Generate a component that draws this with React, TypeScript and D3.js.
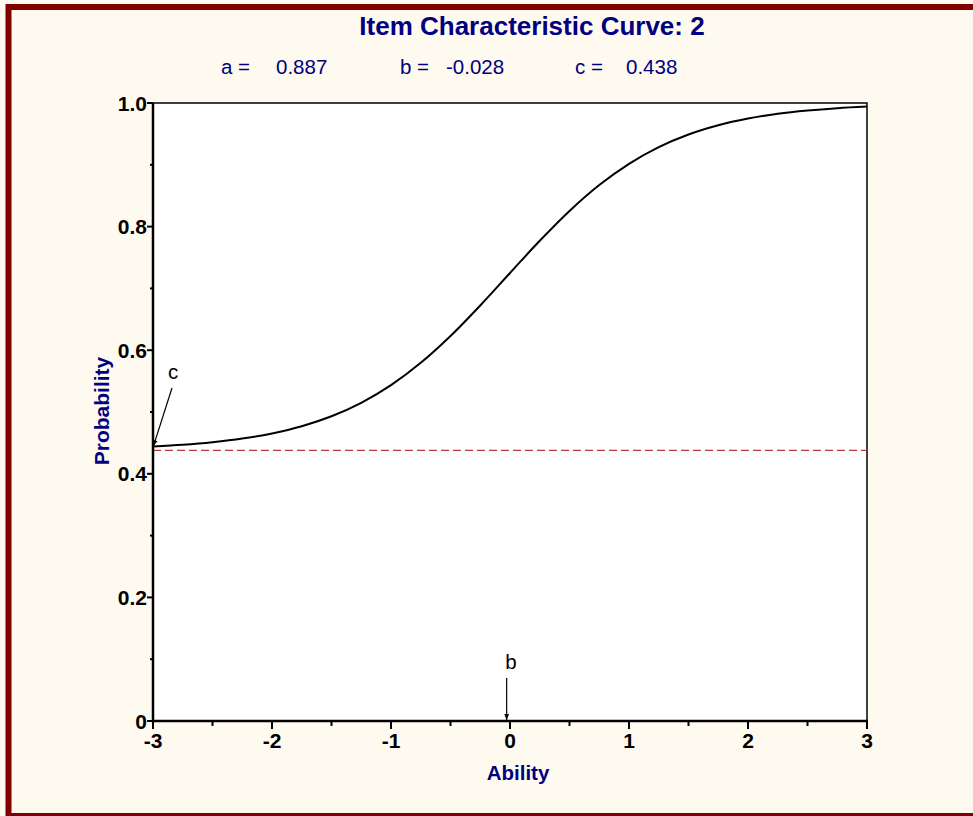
import React from "react";
import * as d3 from "d3";

const TITLE = "Item Characteristic Curve: 2";
const paramLabels = ["a =", "b =", "c ="];
const paramValues = ["0.887", "-0.028", "0.438"];
const paramB = -0.028;
const paramC = 0.438;

// ability values and probabilities
const abilityValues = [-3, -2.75, -2.5, -2.25, -2, -1.75, -1.5, -1.25, -1, -0.75, -0.5, -0.25, 0, 0.25, 0.5, 0.75, 1, 1.25, 1.5, 1.75, 2, 2.25, 2.5, 2.75, 3];
const probabilityValues = [0.4443, 0.4471, 0.4512, 0.457, 0.4653, 0.477, 0.4931, 0.5148, 0.5434, 0.5796, 0.623, 0.6724, 0.7249, 0.777, 0.8253, 0.8672, 0.9016, 0.9286, 0.949, 0.964, 0.9748, 0.9825, 0.9878, 0.9916, 0.9942];

const xTicks = [-3, -2, -1, 0, 1, 2, 3];
const xMinorTicks = [-2.5, -1.5, -0.5, 0.5, 1.5, 2.5];
const yTicks = [0, 0.2, 0.4, 0.6, 0.8, 1.0];
const yTickLabels = ["0", "0.2", "0.4", "0.6", "0.8", "1.0"];
const yMinorTicks = [0.1, 0.3, 0.5, 0.7, 0.9];

const W = 973;
const H = 816;
const left = 153, right = 867, top = 103, bottom = 721;
const navy = "#000080";
const font = "'Liberation Sans', Arial, Helvetica, sans-serif";

export default function App() {
  const x = d3.scaleLinear().domain([-3, 3]).range([left, right]);
  const y = d3.scaleLinear().domain([0, 1]).range([bottom, top]);
  const line = d3
    .line<number>()
    .x((_, i) => x(abilityValues[i]))
    .y((d) => y(d))
    .curve(d3.curveMonotoneX);
  const path = line(probabilityValues) || "";

  const bx = x(paramB);
  const cx0 = x(abilityValues[0]);
  const cy0 = y(probabilityValues[0]);

  return (
    <svg
      width={W}
      height={H}
      style={{ position: "absolute", left: 0, top: 0, display: "block" }}
      fontFamily={font}
    >
      <defs>
        <marker id="arr" viewBox="0 0 10 10" refX="10" refY="5" markerWidth="5" markerHeight="5" orient="auto">
          <path d="M0,1 L10,5 L0,9 z" fill="#000" />
        </marker>
      </defs>
      <rect x={0} y={0} width={W} height={H} fill="#fffaf0" />
      <rect x={8.5} y={7} width={1000} height={809} fill="#fffaf0" stroke="#800000" strokeWidth={6} />

      <text x={532} y={35} textAnchor="middle" fontSize={26} fontWeight="bold" fill={navy}>
        {TITLE}
      </text>
      {[221, 400, 575].map((px, i) => (
        <text key={"pl" + i} x={px} y={74} fontSize={20.5} fill={navy}>
          {paramLabels[i]}
        </text>
      ))}
      {[276, 446, 626].map((px, i) => (
        <text key={"pv" + i} x={px} y={74} fontSize={20.5} fill={navy}>
          {paramValues[i]}
        </text>
      ))}

      <rect x={left} y={top} width={right - left} height={bottom - top} fill="#fff" stroke="#000" strokeWidth={1.5} />

      <line x1={left} x2={right} y1={y(paramC)} y2={y(paramC)} stroke="#b83a3a" strokeWidth={1.2} strokeDasharray="8,4" />

      <path d={path} fill="none" stroke="#000" strokeWidth={2} />

      {/* axes */}
      <line x1={left} x2={left} y1={top} y2={bottom + 1.5} stroke="#000" strokeWidth={2.5} />
      <line x1={left - 1} x2={right + 1} y1={bottom} y2={bottom} stroke="#000" strokeWidth={2.5} />

      {yTicks.map((t, i) => (
        <g key={"yt" + i}>
          <line x1={left - 6} x2={left} y1={y(t)} y2={y(t)} stroke="#000" strokeWidth={2} />
          <text x={left - 6} y={y(t) + 7.5} textAnchor="end" fontSize={21} fontWeight="bold" fill="#000">
            {yTickLabels[i]}
          </text>
        </g>
      ))}
      {yMinorTicks.map((t, i) => (
        <line key={"ym" + i} x1={left - 3} x2={left} y1={y(t)} y2={y(t)} stroke="#000" strokeWidth={2} />
      ))}
      {xTicks.map((t, i) => (
        <g key={"xt" + i}>
          <line x1={x(t)} x2={x(t)} y1={bottom} y2={bottom + 8} stroke="#000" strokeWidth={2} />
          <text x={x(t)} y={748} textAnchor="middle" fontSize={21} fontWeight="bold" fill="#000">
            {t < 0 ? "-" + Math.abs(t) : String(t)}
          </text>
        </g>
      ))}
      {xMinorTicks.map((t, i) => (
        <line key={"xm" + i} x1={x(t)} x2={x(t)} y1={bottom} y2={bottom + 5} stroke="#000" strokeWidth={2} />
      ))}

      <text x={518} y={780} textAnchor="middle" fontSize={20.5} fontWeight="bold" fill={navy}>
        Ability
      </text>
      <text
        transform={`translate(109,411) rotate(-90)`}
        textAnchor="middle"
        fontSize={21}
        fontWeight="bold"
        fill={navy}
      >
        Probability
      </text>

      {/* annotations */}
      <text x={173} y={379} textAnchor="middle" fontSize={20.5} fill="#000">
        c
      </text>
      <line x1={172} y1={388} x2={cx0 + 0.5} y2={cy0 - 0.5} stroke="#000" strokeWidth={1.2} markerEnd="url(#arr)" />
      <text x={511} y={669} textAnchor="middle" fontSize={20.5} fill="#000">
        b
      </text>
      <line x1={bx} y1={678} x2={bx} y2={bottom - 1} stroke="#000" strokeWidth={1.2} markerEnd="url(#arr)" />
    </svg>
  );
}
